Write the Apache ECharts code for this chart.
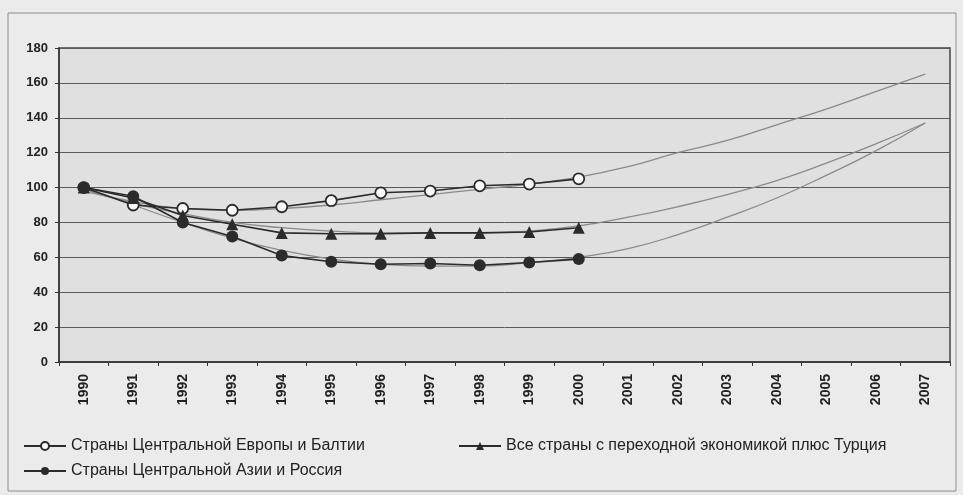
<!DOCTYPE html>
<html>
<head>
<meta charset="utf-8">
<script src="https://cdn.jsdelivr.net/npm/echarts@6/dist/echarts.min.js"></script>
<style>
  html, body { margin: 0; padding: 0; background: #ebebeb; }
  #chart { width: 963px; height: 495px; }
</style>
</head>
<body>
<div id="chart"></div>
<script>
const years = ['1990', '1991', '1992', '1993', '1994', '1995', '1996', '1997', '1998',
  '1999', '2000', '2001', '2002', '2003', '2004', '2005', '2006', '2007'];

// фактические данные 1990-2000
const ceeBaltic = [100, 90, 88, 87, 89, 92.5, 97, 98, 101, 102, 105];
const allTransition = [100, 94, 84, 79, 74, 73.5, 73.5, 74, 74, 74.5, 77];
const centralAsiaRussia = [100, 95, 80, 72, 61, 57.5, 56, 56.5, 55.5, 57, 59];

// линии тренда до 2007
const ceeTrend = [98, 92, 88, 87, 88, 90, 93, 96, 99, 102, 106, 112, 120, 127, 136, 145, 155, 165];
const allTrend = [99, 91, 85, 80, 77, 75, 74, 74, 74, 75, 78, 83, 89, 96, 104, 114, 125, 137];
const caTrend = [100, 90, 80, 71, 64, 59, 56, 55, 55, 57, 60, 65, 73, 83, 94, 107, 121, 137];

const yTicks = { min: 0, max: 180, interval: 20 };

const names = [
  'Страны Центральной Европы и Балтии',
  'Все страны с переходной экономикой плюс Турция',
  'Страны Центральной Азии и Россия'
];

const dark = '#2b2b2b';
const trendColor = '#8a8a8a';
const font = '"Liberation Sans", Arial, sans-serif';

const trendSeries = (data) => ({
  type: 'line',
  data: data,
  smooth: true,
  showSymbol: false,
  silent: true,
  lineStyle: { color: trendColor, width: 1.3 },
  z: 1
});

const legendBase = {
  orient: 'horizontal',
  padding: 0,
  itemWidth: 42,
  itemHeight: 10,
  textStyle: { fontFamily: font, fontSize: 16, color: '#222' }
};

const chart = echarts.init(document.getElementById('chart'));
chart.setOption({
  backgroundColor: '#ebebeb',
  animation: false,
  graphic: [{
    type: 'rect',
    shape: { x: 8, y: 13, width: 948, height: 478 },
    style: { fill: 'none', stroke: '#8c8c8c', lineWidth: 1 },
    z: -1
  }],
  grid: {
    left: 59, right: 13, top: 48, bottom: 133,
    show: true,
    backgroundColor: '#e0e0e0',
    borderColor: '#444',
    borderWidth: 1.5
  },
  legend: [
    Object.assign({}, legendBase, { data: [names[0]], left: 23, top: 438 }),
    Object.assign({}, legendBase, { data: [names[1]], left: 458, top: 438 }),
    Object.assign({}, legendBase, { data: [names[2]], left: 23, top: 463 })
  ],
  xAxis: {
    type: 'category',
    data: years,
    boundaryGap: true,
    axisLine: { lineStyle: { color: '#333', width: 1.5 } },
    axisTick: { show: true, length: 4, lineStyle: { color: '#333' } },
    axisLabel: {
      rotate: 90,
      color: '#222',
      fontFamily: font,
      fontSize: 14,
      fontWeight: 'bold',
      margin: 12
    }
  },
  yAxis: {
    type: 'value',
    min: yTicks.min,
    max: yTicks.max,
    interval: yTicks.interval,
    axisLine: { show: true, lineStyle: { color: '#333', width: 1.5 } },
    axisTick: { show: true, length: 4, lineStyle: { color: '#333' } },
    splitLine: { lineStyle: { color: '#5a5a5a', width: 1 } },
    axisLabel: {
      color: '#222',
      fontFamily: font,
      fontSize: 13,
      fontWeight: 'bold',
      margin: 11
    }
  },
  series: [
    trendSeries(ceeTrend),
    trendSeries(allTrend),
    trendSeries(caTrend),
    {
      name: names[0],
      type: 'line',
      data: ceeBaltic,
      symbol: 'circle',
      symbolSize: 11,
      lineStyle: { color: dark, width: 1.6 },
      itemStyle: { color: '#fafafa', borderColor: dark, borderWidth: 1.8 },
      z: 3
    },
    {
      name: names[1],
      type: 'line',
      data: allTransition,
      symbol: 'triangle',
      symbolSize: 12,
      lineStyle: { color: dark, width: 1.6 },
      itemStyle: { color: dark },
      z: 3
    },
    {
      name: names[2],
      type: 'line',
      data: centralAsiaRussia,
      symbol: 'circle',
      symbolSize: 12,
      lineStyle: { color: dark, width: 1.6 },
      itemStyle: { color: dark },
      z: 3
    }
  ]
});
</script>
</body>
</html>
